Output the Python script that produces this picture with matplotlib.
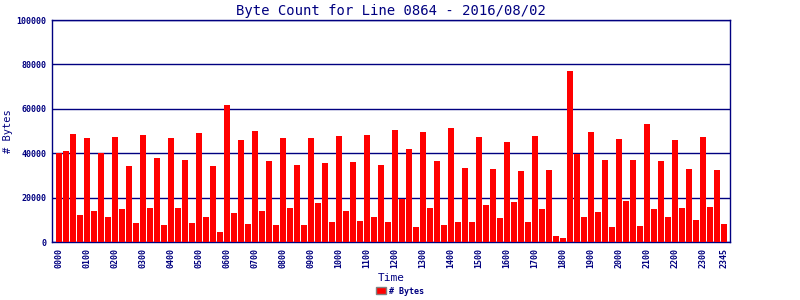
import numpy as np
import matplotlib
matplotlib.use('Agg')
import matplotlib.pyplot as plt
from matplotlib.patches import Patch

# byte counts, one per 15 minutes
byte_counts = [
    40200, 41100, 48900, 12400, 47000, 14200, 40100, 11500,
    47400, 15100, 34400, 8800, 48300, 15500, 38000, 7900,
    47000, 15500, 37100, 8800, 49200, 11500, 34400, 4700,
    61800, 13300, 46100, 8300, 50100, 14200, 36600, 7900,
    47000, 15500, 34800, 7900, 47000, 17800, 35700, 9200,
    47900, 14200, 36200, 9700, 48300, 11500, 34800, 9200,
    50600, 19600, 42000, 7000, 49700, 15500, 36600, 7900,
    51500, 9200, 33500, 9200, 47400, 16900, 33000, 11000,
    45200, 18200, 32100, 9200, 47900, 15100, 32600, 2900,
    2000, 77100, 39800, 11500, 49700, 13700, 37100, 7000,
    46500, 18700, 37100, 7400, 53300, 15100, 36600, 11500,
    46100, 15500, 33000, 10100, 47400, 15900, 32600, 8300,
]
tick_idx = list(range(0, 96, 4)) + [95]
tick_labels = ['%02d00' % h for h in range(24)] + ['2345']
y_ticks = [0, 20000, 40000, 60000, 80000, 100000]

navy = '#000080'
plt.rcParams['font.family'] = 'DejaVu Sans Mono'

fig = plt.figure(figsize=(8, 3), dpi=100)
ax = fig.add_axes([0.065, 0.193, 0.8475, 0.74])
x = np.arange(len(byte_counts))
ax.bar(x, byte_counts, width=0.86, color='#ff0000', zorder=3)

ax.set_xlim(-1.04, 95.86)
ax.set_ylim(0, 100000)
ax.set_yticks(y_ticks)
ax.set_yticklabels([str(v) for v in y_ticks], fontsize=6, fontweight='bold', color=navy)
ax.set_xticks(tick_idx)
ax.set_xticklabels(tick_labels, rotation=90, fontsize=6, fontweight='bold', color=navy)
ax.tick_params(length=0, pad=4)
ax.yaxis.grid(True, color=navy, linewidth=1, zorder=1)
for s in ax.spines.values():
    s.set_color(navy)
    s.set_linewidth(1)

ax.set_title('Byte Count for Line 0864 - 2016/08/02', fontsize=10, color=navy, pad=4)
ax.set_ylabel('# Bytes', fontsize=7.5, color=navy)
ax.yaxis.set_label_coords(-0.057, 0.5)
ax.set_xlabel('Time', fontsize=8, color=navy, labelpad=4)

fig.legend(handles=[Patch(facecolor='#ff0000', edgecolor='gray', label='# Bytes')],
           loc='lower center', bbox_to_anchor=(0.5, -0.01), frameon=False,
           fontsize=6, handlelength=1.2, handleheight=0.8, handletextpad=0.4,
           labelcolor=navy, prop={'weight': 'bold', 'size': 6})

fig.savefig('out.png', dpi=100)
